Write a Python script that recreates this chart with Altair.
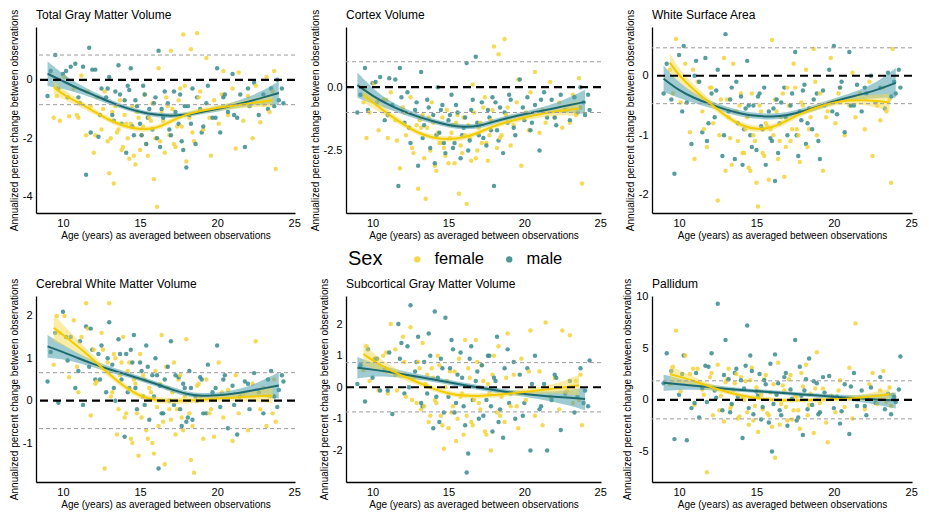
import altair as alt
import pandas as pd

# ---------------- data ----------------
FEMALE_AGE = [9.4, 9.6, 9.8, 10.1, 10.4, 10.7, 11.0, 11.2, 11.5, 11.8,
              12.0, 12.2, 12.5, 12.7, 12.9, 13.0, 13.2, 13.3, 13.5, 13.7,
              13.9, 14.1, 14.3, 14.5, 14.7, 14.9, 15.0, 15.1, 15.3, 15.5,
              15.7, 15.9, 16.0, 16.1, 16.2, 16.4, 16.6, 16.8, 17.0, 17.2,
              17.4, 17.6, 17.8, 18.0, 18.2, 18.3, 18.5, 18.7, 18.9, 19.1,
              19.3, 19.6, 19.8, 20.1, 20.4, 20.7, 21.0, 21.2, 21.4, 21.7,
              22.0, 22.3, 22.5, 22.8, 23.0, 23.2, 23.4, 23.6, 23.7, 23.8,
              10.9, 11.6, 12.1, 12.6, 13.1, 13.4, 13.6, 13.8, 14.0, 14.2,
              14.4, 14.6, 14.8, 15.2, 15.4, 15.6, 15.8, 16.3, 16.5, 16.7,
              16.9, 17.1, 17.3, 17.5, 17.7, 17.9, 18.4, 18.8, 19.5, 20.3]
MALE_AGE = [9.0, 9.2, 9.5, 9.7, 10.0, 10.3, 10.5, 10.8, 11.1, 11.3,
            11.5, 11.7, 11.8, 12.1, 12.3, 12.5, 12.8, 13.0, 13.2, 13.4,
            13.6, 13.8, 14.0, 14.1, 14.3, 14.4, 14.6, 14.8, 15.0, 15.2,
            15.4, 15.6, 15.8, 16.0, 16.2, 16.3, 16.5, 16.8, 17.0, 17.2,
            17.5, 17.7, 17.9, 18.0, 18.2, 18.4, 18.6, 18.9, 19.1, 19.4,
            19.7, 20.0, 20.2, 20.4, 20.7, 21.0, 21.3, 21.5, 21.8, 22.1,
            22.4, 22.7, 23.0, 23.3, 23.5, 23.7, 23.9, 24.0, 24.2, 24.3,
            10.2, 11.0, 11.9, 12.4, 12.9, 13.3, 13.7, 14.2, 14.5, 14.7,
            15.1, 15.3, 15.5, 15.9, 16.1, 16.4, 16.6, 16.9, 17.3, 17.6,
            17.8, 18.1, 18.3, 18.7, 19.0, 19.3, 19.9, 20.5, 21.1, 22.0]

TGMV_F = [-1.3, -0.55, -1.4, 0.1, -1.25, -0.3, -1.3, 0.15, -1.9, -0.9,
          -2.5, -0.6, -1.7, -0.4, -2.1, -3.2, -1.1, -3.55, -1.8, -0.7,
          -2.3, -1.5, -2.7, -0.9, -2.9, -1.3, -2.4, -1.9, -0.5, -2.6,
          -1.4, -3.4, -2.0, -4.35, 0.4, -1.1, -2.5, -0.9, 1.0, -2.2,
          -1.6, -0.3, 1.55, -2.8, -1.3, 1.05, -2.1, 1.6, -0.4, -1.7,
          0.75, -2.6, -0.7, -1.5, 0.3, -1.2, -0.3, -2.35, 0.25, -1.4,
          -0.55, -2.0, -0.2, -1.45, -0.85, 0.1, -1.1, -0.4, 0.3, -3.05,
          -1.2, -0.4, -1.9, -1.0, -2.0, -0.9, -1.7, -2.4, -1.2, -2.0,
          -1.5, -2.6, -1.1, -1.6, -2.2, -1.3, -0.8, -2.1, -1.4, -0.6,
          -1.9, -1.0, -2.3, -0.7, -1.6, -0.2, -1.8, -0.6, -1.3, -0.5]
TGMV_M = [-0.55, 0.3, 0.85, -0.3, 0.2, -0.6, 0.45, 0.55, -0.8, 0.45,
          -3.25, 1.1, -1.8, 0.35, -1.95, -0.3, -0.6, 0.1, -1.2, -0.4,
          0.5, -1.5, -0.7, -2.5, -0.35, 0.4, -1.9, -0.9, -1.5, -0.2,
          -2.2, -1.0, -1.7, -0.6, 1.0, -2.3, -1.3, -0.8, -1.9, -0.4,
          -1.5, -2.1, -0.9, -3.0, -1.2, -0.3, -2.2, -1.0, -1.6, -0.2,
          -1.3, 0.4, -1.8, -0.6, -1.1, 0.2, -1.3, -0.5, -2.3, -0.9,
          -0.1, -1.2, -0.5, -1.0, -0.3, -0.9, 0.0, -0.7, -0.3, -0.8,
          0.3, -0.6, 0.35, -1.2, -0.3, -1.4, -0.5, -0.2, -1.6, -0.7,
          -1.9, -0.5, -1.3, -0.8, -2.0, -1.0, -0.4, -1.7, -1.1, -0.5,
          -2.4, -0.9, -1.5, -0.6, -1.8, -0.8, -1.3, -0.5, -1.2, -0.3]

CTX_F = [-0.6, -2.0, -1.0, 0.15, -1.7, -0.5, -2.0, -0.2, -1.3, -3.2,
         -0.8, -1.9, -0.4, -2.6, -1.5, -4.0, -1.6, -1.1, -4.4, -1.2,
         -0.6, -3.1, -1.8, -2.2, -2.4, -0.9, -3.0, -2.0, -1.5, -1.4,
         -4.2, -2.6, -1.2, -1.9, -4.6, -2.0, 0.1, -2.8, -1.6, -2.2,
         -0.4, -2.9, -1.3, 1.6, -2.4, 1.3, -1.9, 1.9, -0.8, -2.3,
         -1.5, 0.3, -3.1, -1.0, -0.2, 0.6, -1.8, -0.9, -1.4, 0.2,
         -1.2, -0.6, -1.6, -0.9, -1.4, -0.3, -1.1, 0.35, -0.8, -3.8,
         -0.5, -2.1, -1.0, -2.4, -1.3, -2.8, -1.6, -2.5, -1.4, -3.3,
         -2.2, -1.2, -2.7, -1.8, -3.0, -1.1, -2.3, -1.5, -2.9, -1.0,
         -2.5, -1.4, -0.8, -2.2, -1.9, -0.9, -2.0, -1.1, -0.6, -1.7]
CTX_M = [-1.0, -0.3, 0.75, -0.9, 0.15, -0.6, 0.4, -1.3, 0.35, -0.7,
         0.3, -3.9, 0.75, -1.4, -0.2, -2.2, -0.9, -3.1, 0.6, -1.5,
         -0.5, -2.4, -1.1, -3.0, 0.0, -1.8, -0.7, -2.6, -1.3, -0.3,
         -2.2, -1.0, -2.8, -1.6, 0.95, -2.5, -0.9, 1.2, -1.9, -0.6,
         -2.3, -1.2, -0.4, -3.9, -1.7, -0.8, -2.6, -1.4, -0.5, -1.9,
         0.3, -1.3, -0.4, -1.7, -0.7, -2.5, -0.2, -1.2, -0.5, -1.5,
         -0.3, -0.9, -1.3, -0.4, -1.0, 0.0, -0.6, -1.1, -0.3, -0.9,
         0.2, -1.1, -0.4, -1.6, -0.6, -2.0, -0.8, -1.9, -0.9, -2.2,
         -1.1, -2.4, -0.7, -1.9, -1.2, -2.1, -0.5, -1.4, -2.0, -0.9,
         -1.7, -0.6, -2.1, -1.0, -0.3, -1.6, -0.8, -1.4, -0.5, -1.2]

WSA_F = [0.1, -0.3, 0.62, -0.45, 0.2, -0.95, -1.4, -0.1, -0.6, -1.2,
         -0.2, -0.8, -2.1, -0.4, 0.3, -1.6, -0.7, -1.05, 0.2, -0.6,
         -0.5, -1.3, -0.9, -1.55, -0.3, -1.1, -1.8, -2.2, -0.6, -1.35,
         -0.85, -0.9, 0.6, -1.0, -0.4, -1.4, -0.7, -1.7, -0.2, -1.1,
         0.2, -0.9, -1.45, -0.5, 0.1, -1.2, -0.7, 0.45, -1.0, -0.3,
         -1.6, -0.6, 0.3, -0.8, -0.2, -1.0, -0.5, 0.05, -0.7, -0.3,
         -0.9, -0.1, -1.35, -0.5, -0.75, -0.2, -0.6, -0.4, -1.8, 0.45,
         0.1, -0.9, -0.2, -1.0, -0.4, -1.5, -0.6, -1.1, -0.3, -1.3,
         -0.7, -1.6, -1.0, -0.5, -1.3, -0.8, -1.75, -0.6, -1.1, -0.3,
         -1.2, -0.5, -0.9, -0.2, -1.0, -0.45, -0.9, -0.1, -0.7, -0.3]
WSA_M = [-0.3, 0.2, -0.4, -1.65, 0.35, 0.5, -0.45, -1.15, 0.25, -0.1,
         -0.95, 0.3, -1.1, -0.3, -0.7, 0.1, -1.35, 0.7, -0.6, -0.2,
         -1.4, -0.8, -0.35, -1.5, -0.55, 0.25, -1.0, -0.5, -1.25, -0.3,
         -0.9, -1.5, -0.6, -1.1, -1.77, -0.4, -0.8, -0.2, -1.0, -0.5,
         0.4, -1.35, -0.75, -0.25, -1.15, -0.55, -0.9, -0.3, -1.4, -0.5,
         0.1, 0.5, -0.65, -0.2, -0.95, 0.4, -0.5, -0.15, -0.6, -0.3,
         0.0, -0.45, -0.2, -0.55, 0.05, -0.35, -0.1, -0.3, 0.1, -0.2,
         -0.6, 0.0, -0.8, -0.25, -1.0, -0.4, -0.1, -0.9, -0.5, -1.2,
         -0.35, -0.85, -0.2, -1.05, -0.55, -1.3, -0.45, -0.7, -0.3, -1.0,
         -0.6, -0.15, -0.8, -0.4, -1.1, -0.25, -0.6, -0.1, -0.5, -0.2]

CWMV_F = [0.85, 2.0, 1.6, 2.0, 0.55, 1.9, 0.2, 1.5, 2.3, -0.35,
          1.2, 0.45, 1.6, -1.6, 0.9, 2.3, 0.2, 1.1, -0.8, 0.6,
          1.5, -0.3, 0.9, -1.0, 0.4, -1.3, 1.1, -0.4, 0.5, -0.9,
          0.2, -1.25, 0.7, -0.15, -0.6, 1.55, -1.5, 0.3, -0.45, 0.9,
          -0.2, 0.6, -0.7, 1.45, -0.3, -1.4, -1.7, 0.35, 0.1, -0.9,
          0.5, -0.2, -0.85, 0.9, -0.4, 0.25, -0.95, 0.6, -0.3, 0.15,
          -0.7, 0.4, 1.4, -0.2, 0.3, -0.6, 0.1, -0.3, 0.5, -0.5,
          0.8, 1.7, 0.4, 1.2, 0.1, 1.0, -0.2, 0.9, -0.4, 0.7,
          -0.9, 0.5, -0.3, 0.6, -0.7, 0.3, -1.0, 0.4, -0.5, 0.8,
          -0.2, 0.2, -0.8, 0.5, -0.4, 0.1, -0.6, 0.4, -0.3, 0.2]
CWMV_M = [0.45, 1.15, 1.6, -0.05, 2.1, 0.95, 1.5, 0.3, 1.4, -0.1,
          1.75, 0.8, 1.7, 0.5, 1.1, 1.3, 0.2, 1.85, 0.85, 0.0,
          1.45, 0.5, -0.85, 1.1, 0.3, 1.2, 1.55, -0.2, 0.9, 0.1,
          1.3, -0.45, 0.6, 1.0, -1.6, 0.35, -0.3, 0.8, 1.4, -0.1,
          0.55, -0.6, 0.3, -0.5, 0.7, -0.45, 0.1, 0.55, -0.3, 0.85,
          0.2, 1.3, -0.15, 0.5, -0.65, 0.35, -0.8, 0.1, 0.45, -0.2,
          0.65, 0.2, -0.3, 0.5, 0.7, 0.1, -0.15, 0.25, 0.6, 0.45,
          1.5, 0.7, 1.2, 0.5, 1.0, 0.3, 1.1, 0.2, 0.9, 0.3,
          0.7, -0.1, 0.8, 0.1, 0.6, -0.3, 0.5, 0.0, 0.6, -0.2,
          0.4, -0.4, 0.3, 0.0, 0.5, -0.3, 0.3, 0.6, -0.1, 0.4]

SCGMV_F = [0.55, 1.3, 0.2, 0.9, -0.1, 1.0, -0.2, 2.0, 1.2, 0.4,
           1.6, -0.3, 1.9, 0.3, -0.5, 0.8, -0.7, 1.4, 0.1, -1.1,
           0.6, -0.4, 1.0, -0.9, -1.95, 0.2, -1.3, 0.5, -0.6, -1.7,
           0.9, -0.2, -1.5, 1.5, -0.9, 0.3, -1.2, 1.5, -0.5, 0.7,
           -1.4, 0.1, -2.0, 1.0, -0.8, 1.3, -0.3, -1.1, 1.7, -0.6,
           0.4, -1.3, 0.9, -0.4, 1.8, -0.9, 0.5, -1.2, 2.05, -0.3,
           0.3, -0.7, 1.8, -0.1, 1.65, -0.5, 0.2, -0.4, 0.4, -1.2,
           1.1, -0.1, 0.8, -0.4, 0.6, -0.6, 0.4, -0.9, 0.3, -0.5,
           0.7, -1.2, 0.0, -0.8, 0.5, -1.0, -0.3, 0.6, -1.1, -0.4,
           0.8, -0.7, 0.2, -1.5, -0.2, 0.4, -0.9, 0.3, -0.6, 0.5]
SCGMV_M = [0.1, 0.7, -0.45, 1.2, 0.3, 0.9, -0.1, 0.6, 1.1, -0.85,
           0.4, 2.0, 0.9, -0.2, 1.3, 2.6, 0.5, 1.6, -0.5, 0.8,
           -0.2, 1.0, -1.3, 2.4, 0.3, -1.1, 0.6, 2.2, -0.3, 1.5,
           -0.8, 0.4, 1.1, -0.6, -2.7, -2.1, 1.3, 0.2, -1.0, 0.7,
           -0.4, 1.0, -1.4, 0.3, 1.6, -0.7, -1.6, 1.2, -0.2, -1.0,
           0.4, -0.5, 0.6, -2.0, 1.0, -0.7, 0.1, -2.0, -0.4, 0.3,
           -1.35, -0.2, 0.2, -0.8, -0.3, 0.6, -0.5, -0.1, -0.6, 0.85,
           0.9, -0.1, 1.4, 0.0, 0.8, -0.6, 1.7, -0.3, 0.9, -0.8,
           0.6, 1.2, -0.5, 0.3, -1.2, 0.9, -0.4, 0.5, -0.9, 1.0,
           -0.6, 0.2, -1.1, 0.6, -0.5, 0.8, -0.9, 0.1, -0.6, 0.4]

PAL_F = [1.5, 3.2, 6.7, 0.8, 4.3, 2.5, -0.5, 3.0, 1.0, -7.0,
         2.2, -1.5, 3.4, 0.4, -2.1, 1.7, 3.0, -0.8, 0.9, 2.5,
         -1.6, 0.2, 1.8, -2.4, 3.1, -0.6, 1.2, -3.1, 0.5, 2.0,
         -1.3, 0.7, -2.6, 1.5, -5.6, 3.6, -0.4, 0.9, -2.0, 2.4,
         -1.0, 0.3, -2.8, 1.3, 3.4, -1.5, 0.6, -3.2, 4.6, -0.3,
         1.1, -4.1, 0.4, -1.2, 1.9, -0.7, 3.1, -1.8, 7.4, 0.2,
         -0.9, 1.5, 2.6, -0.4, 0.9, 2.8, -0.2, 1.2, -0.6, 0.5,
         3.0, 0.5, 2.6, -1.0, 2.0, -0.5, 1.6, -1.8, 2.2, 0.0,
         -1.2, 1.9, -2.0, 0.8, -0.9, 2.4, -1.5, 0.6, -2.4, 1.4,
         -0.7, 2.0, -1.9, 0.4, -1.0, 2.6, -0.5, 1.1, -2.2, 0.9]
PAL_M = [1.6, 4.5, 2.8, -3.8, 0.5, 4.3, -3.9, -0.8, 2.6, -1.7,
         1.2, 3.3, -0.2, 4.5, 0.9, 9.3, -1.0, 5.8, 2.0, -0.4,
         2.6, 0.3, 1.9, -3.7, 3.3, 7.2, 4.3, -1.4, 0.8, 2.5,
         -0.7, 1.5, -2.2, -5.0, 4.4, 0.5, -1.0, 2.2, -2.5, 1.0,
         5.8, -1.7, 0.4, -3.4, 2.0, 4.0, -0.5, 1.6, -1.2, 0.7,
         2.3, -0.8, 0.3, -2.3, 1.5, -3.3, 2.6, -0.6, 0.9, -1.5,
         1.2, -0.3, 2.2, -0.9, 0.6, -1.4, 0.3, -0.2, 1.0, 4.2,
         2.5, -0.3, 3.2, 0.2, 2.4, -1.2, 3.0, 1.1, -0.8, 2.8,
         0.4, -1.9, 1.9, 3.5, -0.4, 1.6, -1.5, 2.6, 0.1, -2.0,
         3.2, 0.9, -0.9, 1.8, -1.4, 2.2, 0.3, -1.1, 1.3, -0.6]

# smooth fits (mean and half-width of confidence band)
FIT_AGE_F = [9.4, 10, 11, 12, 13, 14, 15, 16, 17, 18, 19, 20, 21, 22, 23, 23.6]
FIT_AGE_M = [9, 10, 11, 12, 13, 14, 15, 16, 17, 18, 19, 20, 21, 22, 23, 24]

TGMV_F_FIT = [-0.25, -0.5, -0.78, -1.08, -1.38, -1.6, -1.7, -1.68, -1.42, -1.17, -1.05, -0.96, -0.88, -0.82, -0.74, -0.7]
TGMV_F_HW = [0.22, 0.17, 0.12, 0.1, 0.09, 0.09, 0.09, 0.09, 0.09, 0.09, 0.09, 0.1, 0.11, 0.13, 0.18, 0.22]
TGMV_M_FIT = [0.21, -0.05, -0.3, -0.52, -0.75, -0.95, -1.1, -1.2, -1.24, -1.2, -1.1, -1.0, -0.88, -0.75, -0.6, -0.45]
TGMV_M_HW = [0.42, 0.25, 0.15, 0.11, 0.09, 0.08, 0.08, 0.08, 0.08, 0.08, 0.08, 0.09, 0.11, 0.15, 0.24, 0.4]

CTX_F_FIT = [-0.3, -0.6, -1.05, -1.45, -1.82, -2.0, -2.07, -2.0, -1.8, -1.52, -1.35, -1.2, -1.07, -0.96, -0.88, -0.84]
CTX_F_HW = [0.3, 0.22, 0.15, 0.12, 0.11, 0.1, 0.1, 0.1, 0.1, 0.1, 0.1, 0.11, 0.13, 0.16, 0.24, 0.3]
CTX_M_FIT = [0.08, -0.35, -0.68, -0.95, -1.17, -1.35, -1.5, -1.58, -1.55, -1.35, -1.2, -1.07, -0.95, -0.83, -0.7, -0.58]
CTX_M_HW = [0.5, 0.3, 0.18, 0.13, 0.11, 0.1, 0.1, 0.1, 0.1, 0.1, 0.1, 0.11, 0.13, 0.18, 0.3, 0.48]

WSA_F_FIT = [0.22, 0.0, -0.25, -0.46, -0.68, -0.84, -0.91, -0.88, -0.75, -0.62, -0.52, -0.45, -0.41, -0.41, -0.43, -0.45]
WSA_F_HW = [0.16, 0.11, 0.08, 0.06, 0.05, 0.05, 0.05, 0.05, 0.05, 0.05, 0.05, 0.05, 0.06, 0.08, 0.12, 0.15]
WSA_M_FIT = [-0.05, -0.25, -0.38, -0.48, -0.57, -0.64, -0.68, -0.69, -0.67, -0.6, -0.52, -0.43, -0.36, -0.3, -0.22, -0.12]
WSA_M_HW = [0.22, 0.13, 0.08, 0.06, 0.05, 0.05, 0.05, 0.05, 0.05, 0.05, 0.05, 0.05, 0.06, 0.09, 0.15, 0.25]

CWMV_F_FIT = [1.72, 1.55, 1.27, 0.96, 0.62, 0.32, 0.1, 0.01, -0.01, 0.0, 0.02, 0.05, 0.07, 0.09, 0.11, 0.12]
CWMV_F_HW = [0.33, 0.24, 0.15, 0.1, 0.08, 0.07, 0.07, 0.07, 0.07, 0.07, 0.07, 0.07, 0.08, 0.1, 0.15, 0.19]
CWMV_M_FIT = [1.28, 1.15, 1.0, 0.86, 0.74, 0.63, 0.52, 0.4, 0.27, 0.15, 0.11, 0.12, 0.16, 0.22, 0.29, 0.36]
CWMV_M_HW = [0.27, 0.17, 0.11, 0.08, 0.07, 0.06, 0.06, 0.06, 0.06, 0.06, 0.06, 0.07, 0.08, 0.11, 0.2, 0.31]

SCGMV_F_FIT = [1.05, 0.85, 0.57, 0.36, 0.15, -0.05, -0.2, -0.27, -0.28, -0.25, -0.2, -0.15, -0.1, -0.04, 0.02, 0.06]
SCGMV_F_HW = [0.36, 0.25, 0.15, 0.11, 0.09, 0.08, 0.08, 0.08, 0.08, 0.08, 0.08, 0.09, 0.11, 0.15, 0.25, 0.33]
SCGMV_M_FIT = [0.62, 0.56, 0.49, 0.41, 0.33, 0.25, 0.16, 0.07, -0.01, -0.09, -0.16, -0.21, -0.26, -0.3, -0.33, -0.37]
SCGMV_M_HW = [0.34, 0.22, 0.15, 0.11, 0.09, 0.08, 0.08, 0.08, 0.08, 0.08, 0.08, 0.09, 0.12, 0.17, 0.25, 0.36]

PAL_F_FIT = [2.5, 2.25, 1.83, 1.25, 0.8, 0.42, 0.17, 0.0, -0.06, -0.05, 0.0, 0.05, 0.12, 0.25, 0.42, 0.55]
PAL_F_HW = [0.8, 0.6, 0.4, 0.3, 0.25, 0.22, 0.2, 0.2, 0.2, 0.2, 0.2, 0.22, 0.25, 0.32, 0.45, 0.55]
PAL_M_FIT = [1.65, 1.52, 1.37, 1.22, 1.07, 0.95, 0.85, 0.74, 0.63, 0.52, 0.41, 0.3, 0.2, 0.1, 0.02, -0.06]
PAL_M_HW = [0.78, 0.55, 0.38, 0.28, 0.22, 0.2, 0.18, 0.18, 0.18, 0.18, 0.2, 0.22, 0.27, 0.38, 0.55, 0.78]

TITLES = ["Total Gray Matter Volume", "Cortex Volume", "White Surface Area",
          "Cerebral White Matter Volume", "Subcortical Gray Matter Volume", "Pallidum"]
Y_DOMAINS = [[-4.56, 1.81], [-4.96, 2.37], [-2.31, 0.82], [-1.92, 2.47], [-3.0, 2.89], [-7.95, 10.05]]
Y_TICKS = [[-4, -2, 0], [-2.5, 0], [-2, -1, 0], [-1, 0, 1, 2], [-2, -1, 0, 1, 2], [-5, 0, 5, 10]]
Y_FORMATS = ["d", ".1f", "d", "d", "d", "d"]
THRESHOLDS = [0.85, 1.0, 0.47, 0.66, 0.78, 1.84]
X_TICKS = [10, 15, 20, 25]
SEXES = ["female", "male"]

# ---------------- styling ----------------
F_PT, M_PT = "#F3D33C", "#3A8C8E"
F_LINE, M_LINE = "#F2CC00", "#1D6A6F"
F_BAND, M_BAND = "#F5D94E", "#4E9EAD"
FONT = "Liberation Sans"
COL_W = [259, 255, 260]
PANEL_H = 186


def panel(i, fy, my, ffit, fhw, mfit, mhw):
    pts = pd.DataFrame(
        {"age": FEMALE_AGE + MALE_AGE, "val": fy + my,
         "sex": ["female"] * len(FEMALE_AGE) + ["male"] * len(MALE_AGE)}
    ).sort_values("age", kind="stable")
    fband = pd.DataFrame({"age": FIT_AGE_F, "val": [a - b for a, b in zip(ffit, fhw)],
                          "val2": [a + b for a, b in zip(ffit, fhw)]})
    mband = pd.DataFrame({"age": FIT_AGE_M, "val": [a - b for a, b in zip(mfit, mhw)],
                          "val2": [a + b for a, b in zip(mfit, mhw)]})
    fline = pd.DataFrame({"age": FIT_AGE_F, "val": ffit})
    mline = pd.DataFrame({"age": FIT_AGE_M, "val": mfit})
    zero = pd.DataFrame({"val": [0]})
    thr = pd.DataFrame({"val": [THRESHOLDS[i], -THRESHOLDS[i]]})

    xax = alt.Axis(title="Age (years) as averaged between observations", values=X_TICKS,
                   grid=False, ticks=False, domainColor="black", domainWidth=1.3,
                   labelColor="black", labelFontSize=11, labelPadding=4, labelFlush=False,
                   titleFontSize=10, titleFontWeight="normal", titleColor="black", titlePadding=2)
    yax = alt.Axis(title="Annualized percent change between observations", values=Y_TICKS[i],
                   format=Y_FORMATS[i], labelExpr="replace(datum.label, '\u2212', '-')",
                   grid=False, ticks=False, domainColor="black", domainWidth=1.3,
                   labelColor="black", labelFontSize=11, labelPadding=4,
                   titleFontSize=10, titleFontWeight="normal", titleColor="black", titlePadding=3)
    X = alt.X("age:Q", scale=alt.Scale(domain=[8.25, 25.05], nice=False, zero=False), axis=xax)
    Y = alt.Y("val:Q", scale=alt.Scale(domain=Y_DOMAINS[i], nice=False, zero=False), axis=yax)

    legend = alt.Legend(title="Sex", orient="none", legendX=312, legendY=224,
                        direction="horizontal", titleOrient="left", titleFontSize=20,
                        titleFontWeight="normal", titleColor="black", titlePadding=26,
                        labelFontSize=16.5, labelColor="black", labelOffset=9,
                        symbolType="circle", symbolSize=40, symbolOpacity=0.9,
                        symbolStrokeWidth=0, columnPadding=16)

    points = alt.Chart(pts).mark_circle(size=20, opacity=0.85).encode(
        x=X, y=Y,
        color=alt.Color("sex:N", scale=alt.Scale(domain=SEXES, range=[F_PT, M_PT]), legend=legend))
    mb = alt.Chart(mband).mark_area(color=M_BAND, opacity=0.55, interpolate="basis").encode(
        x=X, y=Y, y2="val2:Q")
    fb = alt.Chart(fband).mark_area(color=F_BAND, opacity=0.5, interpolate="basis").encode(
        x=X, y=Y, y2="val2:Q")
    ml = alt.Chart(mline).mark_line(color=M_LINE, strokeWidth=2, interpolate="basis").encode(x=X, y=Y)
    fl = alt.Chart(fline).mark_line(color=F_LINE, strokeWidth=2, interpolate="basis").encode(x=X, y=Y)
    zr = alt.Chart(zero).mark_rule(color="black", strokeWidth=2.2, strokeDash=[8, 5]).encode(y=Y)
    tr = alt.Chart(thr).mark_rule(color="#9c9c9c", strokeWidth=1, strokeDash=[4, 3]).encode(y=Y)

    return alt.layer(points, mb, fb, ml, fl, tr, zr).properties(
        width=COL_W[i % 3], height=PANEL_H,
        title=alt.TitleParams(text=TITLES[i], anchor="start", frame="group", fontSize=12,
                              fontWeight="normal", color="black", offset=0, dy=13))


panels = [
    panel(0, TGMV_F, TGMV_M, TGMV_F_FIT, TGMV_F_HW, TGMV_M_FIT, TGMV_M_HW),
    panel(1, CTX_F, CTX_M, CTX_F_FIT, CTX_F_HW, CTX_M_FIT, CTX_M_HW),
    panel(2, WSA_F, WSA_M, WSA_F_FIT, WSA_F_HW, WSA_M_FIT, WSA_M_HW),
    panel(3, CWMV_F, CWMV_M, CWMV_F_FIT, CWMV_F_HW, CWMV_M_FIT, CWMV_M_HW),
    panel(4, SCGMV_F, SCGMV_M, SCGMV_F_FIT, SCGMV_F_HW, SCGMV_M_FIT, SCGMV_M_HW),
    panel(5, PAL_F, PAL_M, PAL_F_FIT, PAL_F_HW, PAL_M_FIT, PAL_M_HW),
]

chart = alt.concat(*panels, columns=3, spacing={"row": 83, "column": 51}, bounds="flush").resolve_scale(
    x="independent", y="independent", color="shared"
).properties(padding=0).configure(font=FONT).configure_view(stroke="transparent")

chart.save("out.html", embed_options={"renderer": "svg", "actions": False})
